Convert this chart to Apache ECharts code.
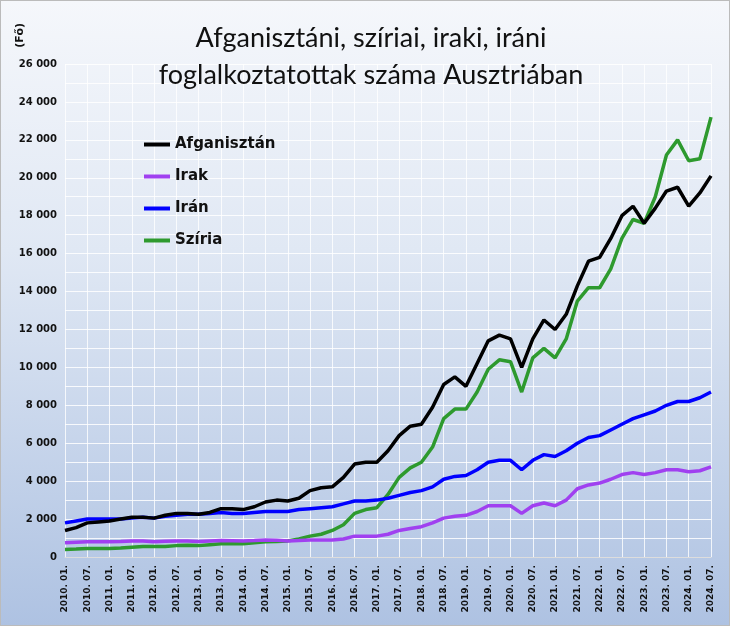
<!DOCTYPE html>
<html><head><meta charset="utf-8">
<script src="https://cdn.jsdelivr.net/npm/echarts@6/dist/echarts.min.js"></script>
<style>html,body{margin:0;padding:0}#c{width:730px;height:626px;box-sizing:border-box;border:1px solid #bbb;background:linear-gradient(#f5f7fb,#e0e8f4 40%,#aec2e2)}</style>
</head><body><div id="c"></div>
<script>
const categories=[];
for(let y=2010;y<=2024;y++){for(const m of ['01','04','07','10']){if(y===2024&&m==='10')continue;categories.push(y+'. '+m+'.');}}
const afganisztan=[1400,1550,1800,1850,1900,2000,2100,2100,2050,2200,2300,2300,2250,2350,2550,2550,2500,2650,2900,3000,2950,3100,3500,3650,3700,4200,4900,5000,5000,5600,6400,6900,7000,7900,9100,9500,9000,10200,11400,11700,11500,10000,11500,12500,12000,12800,14300,15600,15800,16800,18000,18500,17600,18400,19300,19500,18500,19200,20100];
const irak=[750,780,800,800,800,820,850,850,800,830,850,850,820,850,870,860,850,870,900,880,850,870,900,900,900,950,1100,1100,1100,1200,1400,1500,1600,1800,2050,2150,2200,2400,2700,2700,2700,2300,2700,2850,2700,3000,3600,3800,3900,4100,4350,4450,4350,4450,4600,4600,4500,4550,4750];
const iran=[1800,1900,2000,2000,2000,2000,2050,2100,2050,2150,2200,2250,2250,2300,2350,2300,2300,2350,2400,2400,2400,2500,2550,2600,2650,2800,2950,2950,3000,3100,3250,3400,3500,3700,4100,4250,4300,4600,5000,5100,5100,4600,5100,5400,5300,5600,6000,6300,6400,6700,7000,7300,7500,7700,8000,8200,8200,8400,8700];
const sziria=[400,420,450,450,450,480,520,550,550,560,600,620,600,650,700,700,700,750,800,820,850,950,1100,1200,1400,1700,2300,2500,2600,3300,4200,4700,5000,5800,7300,7800,7800,8700,9900,10400,10300,8700,10500,11000,10500,11500,13500,14200,14200,15200,16800,17800,17600,19000,21200,22000,20900,21000,23200];
const names=['Afganisztán','Irak','Irán','Szíria'];
const colors=['#000000','#a040f0','#0000ff','#2e9a2e'];
const datas=[afganisztan,irak,iran,sziria];
const ch=echarts.init(document.getElementById('c'));
ch.setOption({
 title:{text:'Afganisztáni, szíriai, iraki, iráni\nfoglalkoztatottak száma Ausztriában',left:365,top:14,textAlign:'center',textStyle:{fontFamily:'Lato',fontWeight:'normal',fontSize:27,lineHeight:37,color:'#111'}},
 legend:{orient:'vertical',left:138,top:131,itemGap:17,itemWidth:26,itemHeight:4,icon:'rect',textStyle:{fontFamily:'DejaVu Sans',fontWeight:'bold',fontSize:15,color:'#111'},data:names},
 graphic:[{type:'text',left:14,top:22,rotation:Math.PI/2,style:{text:'(Fő)',font:'bold 11px DejaVu Sans',fill:'#111'}}],
 grid:{left:64,right:18,top:63,bottom:68},
 xAxis:{type:'category',boundaryGap:false,data:categories,axisLine:{lineStyle:{color:'#ddd'}},axisTick:{show:false},
  axisLabel:{interval:1,rotate:90,fontFamily:'DejaVu Sans',fontWeight:'bold',fontSize:9,color:'#111'},
  splitLine:{show:true,interval:1,lineStyle:{color:'rgba(255,255,255,0.8)'}}},
 yAxis:{type:'value',min:0,max:26000,interval:1000,axisLine:{show:false},axisTick:{show:false},
  axisLabel:{fontFamily:'DejaVu Sans',fontWeight:'bold',fontSize:10,color:'#111',formatter:v=>v%2000?'':(v>=1000?Math.floor(v/1000)+' '+String(v%1000).padStart(3,'0'):String(v))},
  splitLine:{lineStyle:{color:'rgba(255,255,255,0.85)'}}},
 series:names.map((n,i)=>({name:n,type:'line',data:datas[i],showSymbol:false,lineStyle:{width:3.5,color:colors[i]},itemStyle:{color:colors[i]},z:[4,2,3,1][i]}))
});
</script></body></html>
